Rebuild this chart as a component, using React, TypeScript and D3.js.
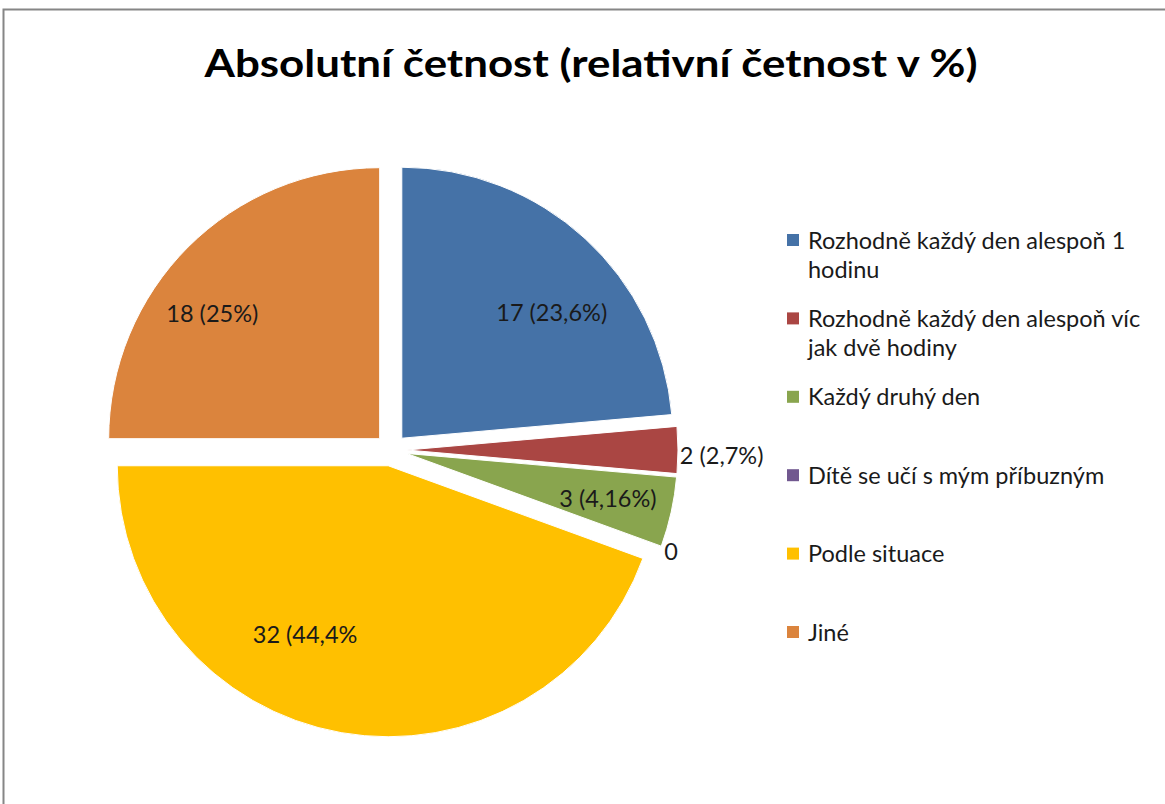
import React from "react";
import * as d3 from "d3";

const categories = [
  "Rozhodně každý den alespoň 1 hodinu",
  "Rozhodně každý den alespoň víc jak dvě hodiny",
  "Každý druhý den",
  "Dítě se učí s mým příbuzným",
  "Podle situace",
  "Jiné",
];
const legendLines = [
  ["Rozhodně každý den alespoň 1", "hodinu"],
  ["Rozhodně každý den alespoň víc", "jak dvě hodiny"],
  ["Každý druhý den"],
  ["Dítě se učí s mým příbuzným"],
  ["Podle situace"],
  ["Jiné"],
];
const values = [17, 2, 3, 0, 32, 18];
const dataLabels = ["17 (23,6%)", "2 (2,7%)", "3 (4,16%)", "0", "32 (44,4%", "18 (25%)"];
const colors = ["#4572A7", "#AA4643", "#89A54E", "#71588F", "#FFC000", "#DB843D"];

// label placement: angle shift (deg) from slice bisector, radius fraction, anchor
const labelShift = [7, 1, 0, 0, 15, -7.6];
const labelRadius = [0.78, 1.066, 0.82, 1.1, 0.75, 0.83];
const labelAnchor = ["middle", "start", "middle", "middle", "middle", "middle"];

const W = 1165;
const H = 804;
const cx = 391;
const cy = 450;
const R = 271;
const explode = 16;
const font = "Lato, 'Open Sans', sans-serif";

export default function App() {
  const pie = d3
    .pie<number>()
    .sort(null)
    .value((d) => d)
    .startAngle(0)
    .endAngle(2 * Math.PI);
  const arcs = pie(values);
  const arc = d3.arc<d3.PieArcDatum<number>>().innerRadius(0).outerRadius(R);

  return (
    <svg
      width={W}
      height={H}
      style={{ position: "absolute", left: 0, top: 0, background: "#fff" }}
    >
      <rect x={3.5} y={9.5} width={W + 10} height={H + 10} fill="#fff" stroke="#868686" strokeWidth={2} />
      <text
        x={591}
        y={77}
        textAnchor="middle"
        fontFamily={font}
        fontWeight="bold"
        fontSize={38}
        textLength={773}
        lengthAdjust="spacingAndGlyphs"
        fill="#000"
      >
        Absolutní četnost (relativní četnost v %)
      </text>
      <g>
        {arcs.map((a, i) => {
          if (a.value === 0) return null;
          const mid = (a.startAngle + a.endAngle) / 2;
          const dx = Math.sin(mid) * explode;
          const dy = -Math.cos(mid) * explode;
          return (
            <path
              key={categories[i]}
              d={arc(a) || ""}
              transform={`translate(${cx + dx},${cy + dy})`}
              fill={colors[i]}
              stroke="#fff"
              strokeWidth={1}
            />
          );
        })}
      </g>
      <g>
        {arcs.map((a, i) => {
          const mid = (a.startAngle + a.endAngle) / 2 + (labelShift[i] * Math.PI) / 180;
          const r = R * labelRadius[i];
          const x = cx + Math.sin(mid) * r;
          const y = cy - Math.cos(mid) * r;
          return (
            <text
              key={"l" + i}
              x={x}
              y={y + 8.5}
              textAnchor={labelAnchor[i] as any}
              fontFamily={font}
              fontSize={23.5}
              fill="#1a1a1a"
            >
              {dataLabels[i]}
            </text>
          );
        })}
      </g>
      <g>
        {legendLines.map((lines, i) => {
          const y0 = 240 + i * 78.4;
          return (
            <g key={"lg" + i}>
              <rect x={787} y={y0 - 6} width={12} height={12} fill={colors[i]} />
              {lines.map((ln, j) => (
                <text
                  key={j}
                  x={808}
                  y={y0 + 8.5 + j * 29.5}
                  fontFamily={font}
                  fontSize={23.5}
                  fill="#1a1a1a"
                >
                  {ln}
                </text>
              ))}
            </g>
          );
        })}
      </g>
    </svg>
  );
}
